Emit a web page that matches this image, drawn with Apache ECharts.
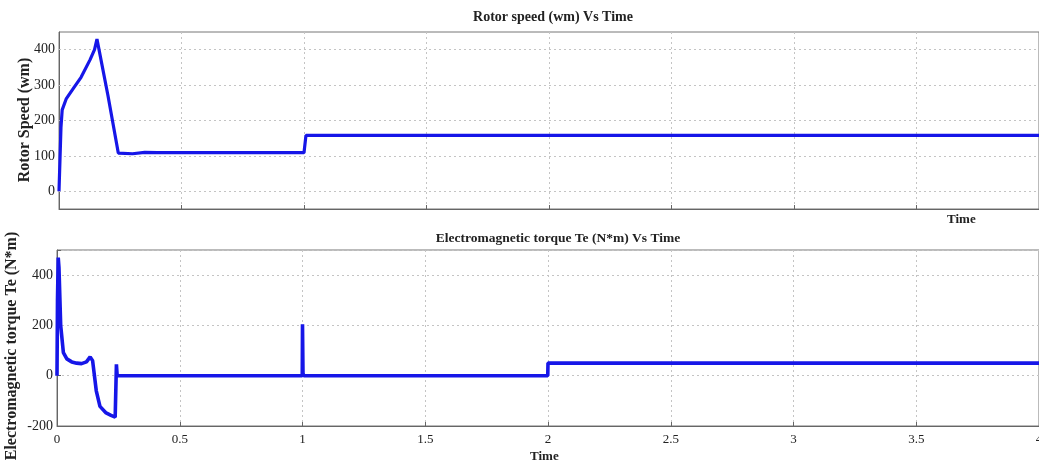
<!DOCTYPE html>
<html>
<head>
<meta charset="utf-8">
<script src="https://cdn.jsdelivr.net/npm/echarts@6/dist/echarts.min.js"></script>
<style>html,body{margin:0;padding:0;background:#fff}#c{width:1039px;height:466px}</style>
</head>
<body>
<div id="c"></div>
<script>
// Rotor speed (wm) vs time
const speedT = [0, 0.004, 0.008, 0.013, 0.03, 0.06, 0.09, 0.127, 0.145, 0.155, 0.162, 0.2, 0.242, 0.3, 0.35, 0.4, 1.0, 1.008, 4.0];
const speedW = [0, 90, 180, 230, 262, 292, 322, 372, 400, 430, 428, 270, 108, 106, 110, 109, 109, 158, 158];
// Electromagnetic torque Te vs time
const torqueT = [0, 0.002, 0.005, 0.008, 0.015, 0.026, 0.04, 0.06, 0.08, 0.1, 0.12, 0.135, 0.145, 0.16, 0.175, 0.2, 0.22, 0.237, 0.24, 0.242, 0.245, 0.25, 0.999, 1.0, 1.002, 1.005, 1.999, 2.0, 4.0];
const torqueV = [0, 300, 470, 430, 200, 92, 67, 55, 50, 48, 55, 75, 60, -60, -122, -148, -158, -165, -165, 45, 0, 0, 0, 205, 10, 0, 0, 50, 50];
// tick labels
const timeTicks = [0, 0.5, 1, 1.5, 2, 2.5, 3, 3.5, 4];
const speedTicks = [0, 100, 200, 300, 400];
const torqueTicks = [-200, 0, 200, 400];

const FONT = 'Liberation Serif';
const gridColor = '#c4c4c4';
const zip = (a, b) => a.map((v, i) => [v, b[i]]);

const chart = echarts.init(document.getElementById('c'), null, {renderer: 'canvas'});
const xBase = (idx, showLabels) => ({
  type: 'value', gridIndex: idx, min: 0, max: 4, interval: 0.5,
  axisLine: {show: true, onZero: false, lineStyle: {color: '#666', width: 1}},
  axisTick: {show: true, inside: true, length: 4, lineStyle: {color: '#666'}},
  axisLabel: {show: showLabels, color: '#222', fontFamily: FONT, fontSize: 13, margin: 7,
    formatter: v => timeTicks.includes(v) ? String(v) : ''},
  splitLine: {show: true, lineStyle: {color: gridColor, type: [2, 3], width: 1}}
});

chart.setOption({
  animation: false,
  backgroundColor: '#fff',
  title: [
    {text: 'Rotor speed (wm) Vs Time', left: 548, top: 5, textAlign: 'center',
     textStyle: {fontFamily: FONT, fontSize: 14, fontWeight: 'bold', color: '#222'}},
    {text: 'Electromagnetic torque Te (N*m) Vs Time', left: 553, top: 227, textAlign: 'center',
     textStyle: {fontFamily: FONT, fontSize: 13.5, fontWeight: 'bold', color: '#222'}}
  ],
  grid: [
    {left: 59, right: 0, top: 32, height: 177, show: true, borderColor: '#777', borderWidth: 1,
     backgroundColor: '#fff', containLabel: false, outerBoundsMode: 'none'},
    {left: 57, right: 0, top: 250, height: 176, show: true, borderColor: '#777', borderWidth: 1,
     backgroundColor: '#fff', containLabel: false, outerBoundsMode: 'none'}
  ],
  xAxis: [xBase(0, false), xBase(1, true)],
  yAxis: [
    {type: 'value', gridIndex: 0, min: -50, max: 450, interval: 50,
     axisLine: {show: true, lineStyle: {color: '#666'}},
     axisTick: {show: false},
     axisLabel: {color: '#222', fontFamily: FONT, fontSize: 14, margin: 4,
       formatter: v => speedTicks.includes(v) ? String(v) : ''},
     splitLine: {show: false}},
    {type: 'value', gridIndex: 1, min: -200, max: 500, interval: 200,
     axisLine: {show: true, lineStyle: {color: '#666'}},
     axisTick: {show: true, inside: true, length: 4, lineStyle: {color: '#666'}},
     axisLabel: {color: '#222', fontFamily: FONT, fontSize: 14, margin: 4,
       formatter: v => torqueTicks.includes(v) ? String(v) : ''},
     splitLine: {show: true, lineStyle: {color: gridColor, type: [2, 3], width: 1}}}
  ],
  graphic: [
    {type: 'text', x: 25, y: 120, rotation: Math.PI / 2,
     style: {text: 'Rotor Speed (wm)', fontFamily: FONT, fontSize: 16, fontWeight: 'bold', fill: '#222',
       align: 'center', verticalAlign: 'middle'}},
    {type: 'text', x: 12, y: 346, rotation: Math.PI / 2,
     style: {text: 'Electromagnetic torque Te (N*m)', fontFamily: FONT, fontSize: 16, fontWeight: 'bold', fill: '#222',
       align: 'center', verticalAlign: 'middle'}},
    {type: 'text', left: 947, top: 213, style: {text: 'Time', fontFamily: FONT, fontSize: 13, fontWeight: 'bold', fill: '#222'}},
    {type: 'text', left: 530, top: 450, style: {text: 'Time', fontFamily: FONT, fontSize: 13, fontWeight: 'bold', fill: '#222'}}
  ],
  series: [
    {type: 'line', xAxisIndex: 0, yAxisIndex: 0, data: zip(speedT, speedW), showSymbol: false,
     lineStyle: {color: '#1616e8', width: 3.2}, z: 5,
     markLine: {silent: true, symbol: 'none', label: {show: false},
       lineStyle: {color: gridColor, type: [2, 3], width: 1},
       data: speedTicks.map(v => ({yAxis: v}))}},
    {type: 'line', xAxisIndex: 1, yAxisIndex: 1, data: zip(torqueT, torqueV), showSymbol: false,
     lineStyle: {color: '#1616e8', width: 3.6}, z: 5}
  ]
});
</script>
</body>
</html>
